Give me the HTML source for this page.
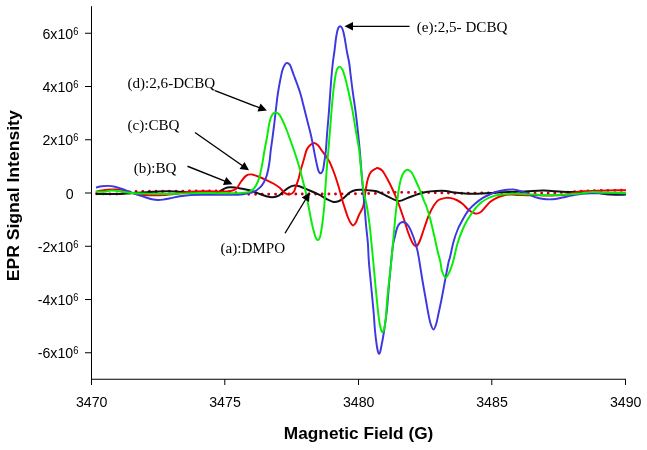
<!DOCTYPE html>
<html><head><meta charset="utf-8"><title>EPR Signal Intensity vs Magnetic Field</title>
<style>html,body{margin:0;padding:0;background:#fff}svg{display:block}</style></head>
<body>
<svg width="647" height="450" viewBox="0 0 647 450">
<rect width="647" height="450" fill="#fff"/>
<g fill="none" stroke-linejoin="round" stroke-linecap="butt">
<path d="M96.50 193.80C99.58 193.83 110.25 194.13 115.00 194.00C119.75 193.87 122.00 193.40 125.00 193.00C128.00 192.60 128.83 191.88 133.00 191.60C137.17 191.32 138.83 191.40 150.00 191.30C161.17 191.20 187.50 191.05 200.00 191.00C212.50 190.95 218.67 190.67 225.00 191.00C231.33 191.33 234.50 192.47 238.00 193.00C241.50 193.53 243.17 193.98 246.00 194.20C248.83 194.42 246.00 194.33 255.00 194.30C264.00 194.27 285.83 194.07 300.00 194.00C314.17 193.93 327.33 194.00 340.00 193.90C352.67 193.80 367.67 193.65 376.00 193.40C384.33 193.15 381.00 192.53 390.00 192.40C399.00 192.27 418.33 192.45 430.00 192.60C441.67 192.75 450.00 193.27 460.00 193.30C470.00 193.33 481.67 192.92 490.00 192.80C498.33 192.68 503.33 192.53 510.00 192.60C516.67 192.67 523.67 193.10 530.00 193.20C536.33 193.30 542.17 193.33 548.00 193.20C553.83 193.07 558.00 192.80 565.00 192.40C572.00 192.00 579.83 191.17 590.00 190.80C600.17 190.43 620.00 190.30 626.00 190.20" stroke="#c40018" stroke-width="2.9" stroke-linecap="round" stroke-dasharray="0 6.65"/>
<path d="M96.00 193.90C98.33 193.92 106.00 193.98 110.00 194.00C114.00 194.02 117.00 194.08 120.00 194.00C123.00 193.92 125.50 193.70 128.00 193.50C130.50 193.30 131.50 193.03 135.00 192.80C138.50 192.57 145.00 192.33 149.00 192.10C153.00 191.87 154.67 191.52 159.00 191.40C163.33 191.28 170.17 191.25 175.00 191.40C179.83 191.55 183.83 192.03 188.00 192.30C192.17 192.57 196.00 192.92 200.00 193.00C204.00 193.08 209.17 192.93 212.00 192.80C214.83 192.67 215.71 192.43 217.00 192.20C218.29 191.97 218.75 191.88 219.75 191.40C220.75 190.92 221.75 189.95 223.00 189.30C224.25 188.65 225.88 187.84 227.25 187.50C228.62 187.16 229.33 187.15 231.25 187.25C233.17 187.35 235.83 187.64 238.75 188.10C241.67 188.56 245.62 189.17 248.75 190.00C251.88 190.83 254.58 192.06 257.50 193.10C260.42 194.14 263.75 195.56 266.25 196.25C268.75 196.94 270.42 197.36 272.50 197.25C274.58 197.14 276.88 196.60 278.75 195.60C280.62 194.60 281.88 192.70 283.75 191.25C285.62 189.80 288.12 187.84 290.00 186.90C291.88 185.96 293.33 185.67 295.00 185.60C296.67 185.53 297.75 185.77 300.00 186.50C302.25 187.23 305.42 188.68 308.50 190.00C311.58 191.32 315.38 192.83 318.50 194.40C321.62 195.97 324.75 198.15 327.25 199.40C329.75 200.65 331.62 201.59 333.50 201.90C335.38 202.21 336.83 201.88 338.50 201.25C340.17 200.62 341.62 199.56 343.50 198.10C345.38 196.64 347.67 193.85 349.75 192.50C351.83 191.15 353.92 190.46 356.00 190.00C358.08 189.54 359.75 189.65 362.25 189.75C364.75 189.85 368.61 190.35 371.00 190.60C373.39 190.85 374.52 190.62 376.60 191.25C378.68 191.88 381.10 193.26 383.50 194.40C385.90 195.54 388.40 197.00 391.00 198.10C393.60 199.20 396.39 201.00 399.10 201.00C401.81 201.00 404.23 199.20 407.25 198.10C410.27 197.00 414.12 195.43 417.25 194.40C420.38 193.37 422.88 192.47 426.00 191.90C429.12 191.33 432.67 191.15 436.00 191.00C439.33 190.85 443.25 190.79 446.00 191.00C448.75 191.21 449.33 191.83 452.50 192.25C455.67 192.67 460.83 193.25 465.00 193.50C469.17 193.75 473.33 193.82 477.50 193.75C481.67 193.68 485.83 193.34 490.00 193.10C494.17 192.86 496.67 192.57 502.50 192.30C508.33 192.03 518.12 191.78 525.00 191.50C531.88 191.22 537.50 190.56 543.75 190.60C550.00 190.64 556.36 191.50 562.50 191.75C568.64 192.00 575.18 191.97 580.60 192.10C586.02 192.22 590.14 192.08 595.00 192.50C599.86 192.92 604.58 194.25 609.75 194.60C614.92 194.95 623.29 194.60 626.00 194.60" stroke="#111" stroke-width="2.0"/>
<path d="M96.00 192.00C96.67 191.80 98.50 191.13 100.00 190.80C101.50 190.47 103.17 190.22 105.00 190.00C106.83 189.78 109.00 189.60 111.00 189.50C113.00 189.40 115.17 189.33 117.00 189.40C118.83 189.47 120.33 189.60 122.00 189.90C123.67 190.20 125.33 190.68 127.00 191.20C128.67 191.72 129.83 192.40 132.00 193.00C134.17 193.60 137.17 194.42 140.00 194.80C142.83 195.18 144.83 195.27 149.00 195.30C153.17 195.33 160.67 195.22 165.00 195.00C169.33 194.78 172.00 194.40 175.00 194.00C178.00 193.60 180.50 192.97 183.00 192.60C185.50 192.23 187.83 192.00 190.00 191.80C192.17 191.60 192.92 191.49 196.00 191.40C199.08 191.31 204.50 191.22 208.50 191.25C212.50 191.28 216.42 191.61 220.00 191.60C223.58 191.59 227.29 191.67 230.00 191.20C232.71 190.72 234.38 190.41 236.25 188.75C238.12 187.09 239.58 183.44 241.25 181.25C242.92 179.06 244.58 176.74 246.25 175.60C247.92 174.46 249.38 174.29 251.25 174.40C253.12 174.51 255.00 175.32 257.50 176.25C260.00 177.18 263.54 178.75 266.25 180.00C268.96 181.25 271.46 182.40 273.75 183.75C276.04 185.10 278.12 186.54 280.00 188.10C281.88 189.66 283.33 192.05 285.00 193.10C286.67 194.15 288.50 194.67 290.00 194.40C291.50 194.13 293.00 192.90 294.00 191.50C295.00 190.10 295.25 188.08 296.00 186.00C296.75 183.92 297.67 181.83 298.50 179.00C299.33 176.17 300.08 172.33 301.00 169.00C301.92 165.67 303.07 162.17 304.00 159.00C304.93 155.83 305.60 152.28 306.60 150.00C307.60 147.72 308.73 146.47 310.00 145.30C311.27 144.13 312.87 143.00 314.20 143.00C315.53 143.00 316.82 144.13 318.00 145.30C319.18 146.47 319.55 147.55 321.30 150.00C323.05 152.45 326.47 156.46 328.50 160.00C330.53 163.54 331.83 166.88 333.50 171.25C335.17 175.62 337.04 181.46 338.50 186.25C339.96 191.04 341.32 196.71 342.25 200.00C343.18 203.29 343.16 203.12 344.10 206.00C345.04 208.88 346.75 214.33 347.90 217.25C349.05 220.17 350.11 222.14 351.00 223.50C351.89 224.86 352.42 225.61 353.25 225.40C354.08 225.19 355.02 224.03 356.00 222.25C356.98 220.47 357.88 217.46 359.10 214.75C360.32 212.04 362.25 209.88 363.30 206.00C364.35 202.12 364.63 196.04 365.40 191.50C366.17 186.96 366.97 182.02 367.90 178.75C368.83 175.48 369.65 173.61 371.00 171.90C372.35 170.19 374.85 169.13 376.00 168.50C377.15 167.87 376.86 167.75 377.90 168.10C378.94 168.45 380.69 168.82 382.25 170.60C383.81 172.38 385.58 175.72 387.25 178.75C388.92 181.78 390.69 185.42 392.25 188.75C393.81 192.08 395.41 195.88 396.60 198.75C397.79 201.62 398.15 202.50 399.40 206.00C400.65 209.50 402.58 215.17 404.10 219.75C405.62 224.33 407.03 229.54 408.50 233.50C409.97 237.46 411.61 241.38 412.90 243.50C414.19 245.62 415.11 246.67 416.25 246.25C417.39 245.83 418.44 243.96 419.75 241.00C421.06 238.04 422.64 232.67 424.10 228.50C425.56 224.33 426.88 219.83 428.50 216.00C430.12 212.17 432.13 208.17 433.80 205.50C435.47 202.83 436.47 201.27 438.50 200.00C440.53 198.73 443.92 198.22 446.00 197.90C448.08 197.58 449.23 197.75 451.00 198.10C452.77 198.45 454.68 199.06 456.60 200.00C458.52 200.94 460.48 202.08 462.50 203.75C464.52 205.42 466.67 208.38 468.75 210.00C470.83 211.62 473.12 213.08 475.00 213.50C476.88 213.92 478.33 213.50 480.00 212.50C481.67 211.50 483.33 209.27 485.00 207.50C486.67 205.73 488.12 203.47 490.00 201.90C491.88 200.33 494.17 199.12 496.25 198.10C498.33 197.08 500.21 196.38 502.50 195.80C504.79 195.22 507.08 194.73 510.00 194.60C512.92 194.47 515.00 194.87 520.00 195.00C525.00 195.13 533.67 195.37 540.00 195.40C546.33 195.43 553.33 195.40 558.00 195.20C562.67 195.00 565.17 194.67 568.00 194.20C570.83 193.73 573.00 192.87 575.00 192.40C577.00 191.93 577.83 191.60 580.00 191.40C582.17 191.20 585.17 191.30 588.00 191.20C590.83 191.10 593.33 190.93 597.00 190.80C600.67 190.67 605.17 190.49 610.00 190.40C614.83 190.31 623.33 190.28 626.00 190.25" stroke="#f00000" stroke-width="1.95"/>
<path d="M96.00 187.50C97.00 187.30 100.00 186.57 102.00 186.30C104.00 186.03 105.83 185.82 108.00 185.90C110.17 185.98 112.67 186.28 115.00 186.80C117.33 187.32 119.83 188.27 122.00 189.00C124.17 189.73 126.00 190.47 128.00 191.20C130.00 191.93 132.00 192.68 134.00 193.40C136.00 194.12 138.00 194.82 140.00 195.50C142.00 196.18 144.00 196.88 146.00 197.50C148.00 198.12 150.00 198.78 152.00 199.20C154.00 199.62 156.17 199.93 158.00 200.00C159.83 200.07 161.00 199.88 163.00 199.60C165.00 199.32 167.17 198.85 170.00 198.30C172.83 197.75 176.50 196.85 180.00 196.30C183.50 195.75 186.83 195.25 191.00 195.00C195.17 194.75 200.17 194.83 205.00 194.80C209.83 194.77 215.00 194.82 220.00 194.80C225.00 194.78 231.17 194.78 235.00 194.70C238.83 194.62 239.88 194.77 243.00 194.30C246.12 193.83 250.92 193.03 253.75 191.90C256.58 190.77 258.33 189.07 260.00 187.50C261.67 185.93 262.60 184.58 263.75 182.50C264.90 180.42 265.96 178.33 266.90 175.00C267.84 171.67 268.75 166.67 269.40 162.50C270.05 158.33 270.28 154.12 270.80 150.00C271.32 145.88 271.90 142.29 272.50 137.75C273.10 133.21 273.77 127.96 274.40 122.75C275.02 117.54 275.68 111.29 276.25 106.50C276.82 101.71 277.18 98.21 277.80 94.00C278.43 89.79 279.22 85.25 280.00 81.25C280.78 77.25 281.67 72.81 282.50 70.00C283.33 67.19 284.27 65.58 285.00 64.40C285.73 63.22 286.07 62.80 286.90 62.90C287.73 63.00 288.86 62.98 290.00 65.00C291.14 67.02 292.50 71.67 293.75 75.00C295.00 78.33 296.38 81.83 297.50 85.00C298.62 88.17 299.46 90.42 300.50 94.00C301.54 97.58 302.58 101.92 303.75 106.50C304.92 111.08 306.25 116.50 307.50 121.50C308.75 126.50 310.18 131.75 311.25 136.50C312.32 141.25 313.06 145.75 313.90 150.00C314.74 154.25 315.57 158.62 316.30 162.00C317.03 165.38 317.58 168.42 318.30 170.30C319.02 172.18 319.83 173.30 320.60 173.30C321.37 173.30 322.28 172.18 322.90 170.30C323.52 168.42 323.80 165.38 324.30 162.00C324.80 158.62 325.41 155.08 325.90 150.00C326.39 144.92 326.75 137.83 327.25 131.50C327.75 125.17 328.26 120.42 328.90 112.00C329.54 103.58 330.45 89.17 331.10 81.00C331.75 72.83 332.25 67.92 332.80 63.00C333.35 58.08 333.82 55.92 334.40 51.50C334.97 47.08 335.63 40.35 336.25 36.50C336.87 32.65 337.43 30.11 338.10 28.40C338.77 26.69 339.52 26.15 340.25 26.25C340.98 26.35 341.81 27.29 342.50 29.00C343.19 30.71 343.67 32.75 344.40 36.50C345.13 40.25 346.10 47.08 346.90 51.50C347.70 55.92 348.58 59.12 349.20 63.00C349.82 66.88 349.97 69.63 350.60 74.75C351.23 79.87 352.18 87.66 353.00 93.70C353.82 99.74 354.68 104.70 355.50 111.00C356.32 117.30 357.19 125.00 357.90 131.50C358.61 138.00 359.02 141.71 359.75 150.00C360.48 158.29 361.49 172.25 362.25 181.25C363.01 190.25 363.68 196.75 364.30 204.00C364.93 211.25 365.40 218.17 366.00 224.75C366.60 231.33 367.42 237.29 367.90 243.50C368.38 249.71 368.34 254.75 368.90 262.00C369.46 269.25 370.47 278.67 371.25 287.00C372.03 295.33 372.98 304.71 373.60 312.00C374.23 319.29 374.48 325.25 375.00 330.75C375.52 336.25 376.22 341.56 376.70 345.00C377.18 348.44 377.50 349.90 377.90 351.40C378.30 352.90 378.70 354.00 379.10 354.00C379.50 354.00 379.92 352.73 380.30 351.40C380.68 350.07 380.93 348.40 381.40 346.00C381.87 343.60 382.50 340.58 383.10 337.00C383.70 333.42 384.37 329.00 385.00 324.50C385.63 320.00 386.23 316.58 386.90 310.00C387.57 303.42 388.32 292.83 389.00 285.00C389.68 277.17 390.33 269.67 391.00 263.00C391.67 256.33 392.38 249.29 393.00 245.00C393.62 240.71 393.93 240.42 394.75 237.25C395.57 234.08 396.54 228.54 397.90 226.00C399.26 223.46 401.13 222.00 402.90 222.00C404.67 222.00 406.73 223.46 408.50 226.00C410.27 228.54 412.04 233.29 413.50 237.25C414.96 241.21 416.25 245.62 417.25 249.75C418.25 253.88 418.62 256.83 419.50 262.00C420.38 267.17 421.38 274.08 422.50 280.75C423.62 287.42 425.32 296.71 426.25 302.00C427.18 307.29 427.38 308.88 428.10 312.50C428.83 316.12 429.70 320.93 430.60 323.75C431.50 326.57 432.56 329.40 433.50 329.40C434.44 329.40 435.38 326.57 436.25 323.75C437.12 320.93 437.88 316.54 438.75 312.50C439.62 308.46 440.46 304.79 441.50 299.50C442.54 294.21 443.82 287.00 445.00 280.75C446.18 274.50 447.77 265.92 448.60 262.00C449.43 258.08 449.14 260.75 450.00 257.25C450.86 253.75 452.40 245.79 453.75 241.00C455.10 236.21 456.73 231.83 458.10 228.50C459.48 225.17 460.85 223.17 462.00 221.00C463.15 218.83 463.88 217.33 465.00 215.50C466.12 213.67 467.08 211.96 468.75 210.00C470.42 208.04 472.71 205.73 475.00 203.75C477.29 201.77 480.00 199.66 482.50 198.10C485.00 196.54 487.50 195.50 490.00 194.40C492.50 193.30 495.00 192.23 497.50 191.50C500.00 190.77 502.50 190.35 505.00 190.00C507.50 189.65 510.62 189.42 512.50 189.40C514.38 189.38 514.17 189.34 516.25 189.90C518.33 190.46 521.88 191.55 525.00 192.75C528.12 193.95 531.88 196.06 535.00 197.10C538.12 198.14 540.83 198.64 543.75 199.00C546.67 199.36 549.38 199.50 552.50 199.25C555.62 199.00 559.92 197.99 562.50 197.50C565.08 197.01 565.92 196.75 568.00 196.30C570.08 195.85 572.50 195.22 575.00 194.80C577.50 194.38 580.33 194.03 583.00 193.80C585.67 193.57 587.58 193.47 591.00 193.40C594.42 193.33 599.33 193.40 603.50 193.40C607.67 193.40 612.25 193.34 616.00 193.40C619.75 193.46 624.33 193.69 626.00 193.75" stroke="#3e38e0" stroke-width="1.95"/>
<path d="M95.60 191.40C96.83 191.47 100.47 191.93 103.00 191.80C105.53 191.67 108.42 190.73 110.75 190.60C113.08 190.47 114.79 190.75 117.00 191.00C119.21 191.25 121.50 191.77 124.00 192.10C126.50 192.43 128.00 192.75 132.00 193.00C136.00 193.25 142.67 193.45 148.00 193.60C153.33 193.75 158.67 193.90 164.00 193.90C169.33 193.90 174.00 193.75 180.00 193.60C186.00 193.45 193.33 193.07 200.00 193.00C206.67 192.93 213.54 193.18 220.00 193.20C226.46 193.22 233.96 193.32 238.75 193.10C243.54 192.88 246.25 192.62 248.75 191.90C251.25 191.18 252.29 190.32 253.75 188.75C255.21 187.18 256.46 184.79 257.50 182.50C258.54 180.21 259.17 178.33 260.00 175.00C260.83 171.67 261.73 166.67 262.50 162.50C263.27 158.33 263.87 154.12 264.60 150.00C265.33 145.88 266.10 142.29 266.90 137.75C267.70 133.21 268.57 126.50 269.40 122.75C270.23 119.00 270.97 116.96 271.90 115.25C272.83 113.54 273.86 112.71 275.00 112.50C276.14 112.29 277.50 112.71 278.75 114.00C280.00 115.29 281.25 117.75 282.50 120.25C283.75 122.75 284.95 125.71 286.25 129.00C287.55 132.29 289.09 136.67 290.30 140.00C291.51 143.33 292.68 146.67 293.50 149.00C294.32 151.33 294.38 151.50 295.20 154.00C296.02 156.50 297.45 160.83 298.40 164.00C299.35 167.17 300.08 169.92 300.90 173.00C301.72 176.08 302.52 179.42 303.30 182.50C304.08 185.58 304.73 187.58 305.60 191.50C306.47 195.42 307.50 200.88 308.50 206.00C309.50 211.12 310.56 217.46 311.60 222.25C312.64 227.04 313.97 232.01 314.75 234.75C315.53 237.49 315.78 237.81 316.30 238.70C316.82 239.59 317.38 240.13 317.90 240.10C318.42 240.07 318.95 239.39 319.40 238.50C319.85 237.61 320.08 237.46 320.60 234.75C321.12 232.04 321.88 227.04 322.50 222.25C323.12 217.46 323.82 211.79 324.30 206.00C324.78 200.21 324.91 194.75 325.40 187.50C325.89 180.25 326.75 168.75 327.25 162.50C327.75 156.25 327.88 156.21 328.40 150.00C328.92 143.79 329.88 131.75 330.40 125.25C330.92 118.75 331.05 116.29 331.50 111.00C331.95 105.71 332.52 98.92 333.10 93.50C333.68 88.08 334.37 82.46 335.00 78.50C335.63 74.54 336.11 71.73 336.90 69.75C337.69 67.77 338.82 66.60 339.75 66.60C340.68 66.60 341.62 67.97 342.50 69.75C343.38 71.53 344.17 74.33 345.00 77.25C345.83 80.17 346.67 83.71 347.50 87.25C348.33 90.79 349.18 94.71 350.00 98.50C350.82 102.29 351.40 104.50 352.40 110.00C353.40 115.50 354.88 124.83 356.00 131.50C357.12 138.17 358.17 142.75 359.10 150.00C360.03 157.25 360.77 167.71 361.60 175.00C362.43 182.29 363.23 188.58 364.10 193.75C364.97 198.92 365.88 200.83 366.80 206.00C367.72 211.17 368.82 218.50 369.60 224.75C370.38 231.00 370.88 237.29 371.50 243.50C372.12 249.71 372.62 254.75 373.30 262.00C373.98 269.25 374.80 278.67 375.60 287.00C376.40 295.33 377.47 306.17 378.10 312.00C378.73 317.83 378.92 319.08 379.40 322.00C379.88 324.92 380.48 327.83 381.00 329.50C381.52 331.17 381.93 332.21 382.50 332.00C383.07 331.79 383.85 330.58 384.40 328.25C384.95 325.92 385.33 322.79 385.80 318.00C386.27 313.21 386.60 306.12 387.20 299.50C387.80 292.88 388.72 284.50 389.40 278.25C390.07 272.00 390.57 268.83 391.25 262.00C391.93 255.17 392.81 244.92 393.50 237.25C394.19 229.58 394.88 221.21 395.40 216.00C395.92 210.79 396.08 210.12 396.60 206.00C397.12 201.88 397.77 195.79 398.50 191.25C399.23 186.71 400.07 181.97 401.00 178.75C401.93 175.53 403.02 173.40 404.10 171.90C405.18 170.40 406.25 169.65 407.50 169.75C408.75 169.85 410.18 170.58 411.60 172.50C413.02 174.42 414.53 178.12 416.00 181.25C417.47 184.38 419.05 187.92 420.40 191.25C421.75 194.58 423.12 198.79 424.10 201.25C425.08 203.71 425.23 202.88 426.30 206.00C427.37 209.12 429.17 215.00 430.50 220.00C431.83 225.00 433.10 230.75 434.30 236.00C435.50 241.25 436.68 247.17 437.70 251.50C438.72 255.83 439.70 258.79 440.40 262.00C441.10 265.21 441.03 268.15 441.90 270.75C442.77 273.35 444.35 277.39 445.60 277.60C446.85 277.81 448.17 274.60 449.40 272.00C450.63 269.40 451.65 266.75 453.00 262.00C454.35 257.25 455.92 248.88 457.50 243.50C459.08 238.12 460.83 233.71 462.50 229.75C464.17 225.79 465.83 222.67 467.50 219.75C469.17 216.83 470.92 214.46 472.50 212.25C474.08 210.04 475.58 208.11 477.00 206.50C478.42 204.89 479.25 203.93 481.00 202.60C482.75 201.27 485.17 199.67 487.50 198.50C489.83 197.33 492.50 196.28 495.00 195.60C497.50 194.92 500.00 194.68 502.50 194.40C505.00 194.12 507.71 194.01 510.00 193.90C512.29 193.79 512.71 193.67 516.25 193.75C519.79 193.83 525.62 194.15 531.25 194.40C536.88 194.65 544.38 195.22 550.00 195.25C555.62 195.28 560.00 194.89 565.00 194.60C570.00 194.31 575.67 193.92 580.00 193.50C584.33 193.08 587.08 192.27 591.00 192.10C594.92 191.93 597.67 192.35 603.50 192.50C609.33 192.65 622.25 192.92 626.00 193.00" stroke="#06ee06" stroke-width="1.95"/>
</g>
<g stroke="#000" stroke-width="1" fill="none" shape-rendering="auto">
<line x1="91.50" y1="6.2" x2="91.50" y2="385"/>
<line x1="91.00" y1="379.25" x2="626" y2="379.25"/>
<line x1="85" y1="352.75" x2="91.50" y2="352.75"/>
<line x1="85" y1="299.50" x2="91.50" y2="299.50"/>
<line x1="85" y1="246.25" x2="91.50" y2="246.25"/>
<line x1="85" y1="193.00" x2="91.50" y2="193.00"/>
<line x1="85" y1="139.75" x2="91.50" y2="139.75"/>
<line x1="85" y1="86.50" x2="91.50" y2="86.50"/>
<line x1="85" y1="33.25" x2="91.50" y2="33.25"/>
<line x1="224.80" y1="379.25" x2="224.80" y2="385"/>
<line x1="358.50" y1="379.25" x2="358.50" y2="385"/>
<line x1="491.80" y1="379.25" x2="491.80" y2="385"/>
<line x1="625.50" y1="379.25" x2="625.50" y2="385"/>
</g>
<g font-family="'Liberation Sans', Arial, sans-serif" font-size="15.1" fill="#000">
<text transform="translate(78.4,358.45) scale(0.94,1)" text-anchor="end">-6x10<tspan font-size="10" dy="-4.4">6</tspan></text>
<text transform="translate(78.4,305.20) scale(0.94,1)" text-anchor="end">-4x10<tspan font-size="10" dy="-4.4">6</tspan></text>
<text transform="translate(78.4,251.95) scale(0.94,1)" text-anchor="end">-2x10<tspan font-size="10" dy="-4.4">6</tspan></text>
<text transform="translate(73.7,198.70) scale(0.94,1)" text-anchor="end">0</text>
<text transform="translate(78.4,145.45) scale(0.94,1)" text-anchor="end">2x10<tspan font-size="10" dy="-4.4">6</tspan></text>
<text transform="translate(78.4,92.20) scale(0.94,1)" text-anchor="end">4x10<tspan font-size="10" dy="-4.4">6</tspan></text>
<text transform="translate(78.4,38.95) scale(0.94,1)" text-anchor="end">6x10<tspan font-size="10" dy="-4.4">6</tspan></text>
<text transform="translate(91.70,406.7) scale(0.94,1)" text-anchor="middle">3470</text>
<text transform="translate(225.00,406.7) scale(0.94,1)" text-anchor="middle">3475</text>
<text transform="translate(358.70,406.7) scale(0.94,1)" text-anchor="middle">3480</text>
<text transform="translate(492.00,406.7) scale(0.94,1)" text-anchor="middle">3485</text>
<text transform="translate(625.70,406.7) scale(0.94,1)" text-anchor="middle">3490</text>
</g>
<g font-family="'Liberation Sans', Arial, sans-serif" font-weight="bold" font-size="16.5" fill="#000">
<text x="358.6" y="439.4" text-anchor="middle" textLength="149.5" lengthAdjust="spacingAndGlyphs">Magnetic Field (G)</text>
<text transform="translate(18.5,195.8) rotate(-90)" text-anchor="middle" textLength="171" lengthAdjust="spacingAndGlyphs">EPR Signal Intensity</text>
</g>
<g font-family="'Liberation Serif', 'Times New Roman', serif" font-size="15.1" fill="#000">
<text x="416.8" y="32.2">(e):2,5- DCBQ</text>
<text x="127.5" y="87.5">(d):2,6-DCBQ</text>
<text x="127.5" y="130">(c):CBQ</text>
<text x="133.75" y="172.5">(b):BQ</text>
<text x="220.5" y="252.5">(a):DMPO</text>
</g>
<line x1="409.60" y1="26.30" x2="352.00" y2="26.30" stroke="#000" stroke-width="1.35"/><polygon points="344.50,26.30 353.00,22.00 353.00,30.60" fill="#000"/>
<line x1="215.00" y1="90.70" x2="259.90" y2="107.91" stroke="#000" stroke-width="1.35"/><polygon points="266.90,110.60 257.42,111.57 260.50,103.54" fill="#000"/>
<line x1="195.00" y1="132.50" x2="242.86" y2="166.00" stroke="#000" stroke-width="1.35"/><polygon points="249.00,170.30 239.57,168.95 244.50,161.90" fill="#000"/>
<line x1="187.50" y1="166.25" x2="225.53" y2="181.42" stroke="#000" stroke-width="1.35"/><polygon points="232.50,184.20 223.01,185.04 226.20,177.06" fill="#000"/>
<line x1="285.00" y1="233.25" x2="305.89" y2="199.00" stroke="#000" stroke-width="1.35"/><polygon points="309.80,192.60 309.04,202.10 301.70,197.62" fill="#000"/>
</svg>
</body></html>
